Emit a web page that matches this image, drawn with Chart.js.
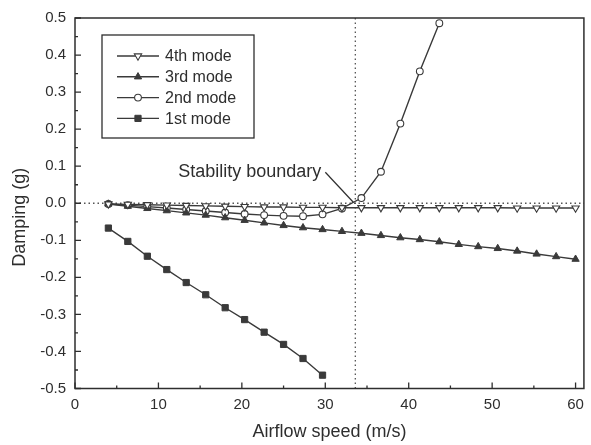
<!DOCTYPE html>
<html>
<head>
<meta charset="utf-8">
<script src="https://cdn.jsdelivr.net/npm/chart.js@4/dist/chart.umd.min.js"></script>
<style>
html,body{margin:0;padding:0;background:#fff;}
#c{display:block;}
</style>
</head>
<body>
<canvas id="c" width="591" height="445"></canvas>
<script>
// ---- data ----
const speeds = [4, 6.33, 8.67, 11, 13.33, 15.67, 18, 20.33, 22.67, 25, 27.33, 29.67, 32,
                34.33, 36.67, 39, 41.33, 43.67, 46, 48.33, 50.67, 53, 55.33, 57.67, 60];
const mode1 = [-0.067, -0.103, -0.143, -0.179, -0.214, -0.247, -0.282, -0.314, -0.348, -0.381, -0.419, -0.464];
const mode2 = [-0.002, -0.005, -0.009, -0.013, -0.017, -0.021, -0.025, -0.029, -0.032, -0.034, -0.035, -0.030, -0.014,
               0.014, 0.085, 0.215, 0.356, 0.486];
const mode3 = [-0.002, -0.008, -0.014, -0.020, -0.026, -0.032, -0.039, -0.046, -0.053, -0.060, -0.066, -0.071, -0.076,
               -0.081, -0.087, -0.093, -0.098, -0.104, -0.111, -0.117, -0.122, -0.129, -0.137, -0.144, -0.151];
const mode4 = [-0.002, -0.003, -0.004, -0.005, -0.006, -0.007, -0.008, -0.009, -0.010, -0.010, -0.011, -0.011, -0.012,
               -0.012, -0.012, -0.012, -0.012, -0.012, -0.012, -0.012, -0.012, -0.013, -0.013, -0.013, -0.013];
const seriesLabels = ['4th mode', '3rd mode', '2nd mode', '1st mode'];
const xTicks = [0, 10, 20, 30, 40, 50, 60];
const xMinorTicks = [5, 15, 25, 35, 45, 55];
const yTicks = [-0.5, -0.4, -0.3, -0.2, -0.1, 0, 0.1, 0.2, 0.3, 0.4, 0.5];
const yMinorTicks = [-0.45, -0.35, -0.25, -0.15, -0.05, 0.05, 0.15, 0.25, 0.35, 0.45];
const boundarySpeed = 33.6;
const annotationText = 'Stability boundary';
const xTitle = 'Airflow speed (m/s)';
const yTitle = 'Damping (g)';

const FONT = "'Liberation Sans', Arial, sans-serif";
const INK = '#2e2e2e';
const LINE = '#3a3a3a';

function pts(vals){ return vals.map((v,i)=>({x: speeds[i], y: v})); }

const datasets = [
  {label: seriesLabels[0], data: pts(mode4), pointStyle: 'triangle', rotation: 180, pointRadius: 4.2,
   backgroundColor: '#fff', borderColor: LINE, pointBorderWidth: 1.1},
  {label: seriesLabels[1], data: pts(mode3), pointStyle: 'triangle', rotation: 0, pointRadius: 4.2,
   backgroundColor: LINE, borderColor: LINE, pointBorderWidth: 1},
  {label: seriesLabels[2], data: pts(mode2), pointStyle: 'circle', rotation: 0, pointRadius: 3.4,
   backgroundColor: '#fff', borderColor: LINE, pointBorderWidth: 1.1},
  {label: seriesLabels[3], data: pts(mode1), pointStyle: 'rect', rotation: 0, pointRadius: 4.4,
   backgroundColor: LINE, borderColor: LINE, pointBorderWidth: 1}
].map(d => Object.assign({borderWidth: 1.4, showLine: true, fill: false, tension: 0, pointRotation: d.rotation,
                          pointBackgroundColor: d.backgroundColor, pointBorderColor: d.borderColor}, d));

const decor = {
  id: 'decor',
  beforeDatasetsDraw(chart) {
    const {ctx, chartArea: a, scales: {x, y}} = chart;
    ctx.save();
    ctx.strokeStyle = '#555';
    ctx.lineWidth = 1.3;
    ctx.setLineDash([1.5, 3]);
    const y0 = y.getPixelForValue(0);
    ctx.beginPath(); ctx.moveTo(a.left, y0); ctx.lineTo(a.right, y0); ctx.stroke();
    const xb = x.getPixelForValue(boundarySpeed);
    ctx.beginPath(); ctx.moveTo(xb, a.top); ctx.lineTo(xb, a.bottom); ctx.stroke();
    ctx.restore();
  },
  afterDraw(chart) {
    const {ctx, chartArea: a, scales: {x, y}} = chart;
    ctx.save();
    // frame
    ctx.strokeStyle = INK; ctx.lineWidth = 1.5; ctx.setLineDash([]);
    ctx.strokeRect(a.left, a.top, a.right - a.left, a.bottom - a.top);
    // inward ticks
    ctx.lineWidth = 1.3;
    ctx.beginPath();
    xTicks.forEach(v => { const p = x.getPixelForValue(v); ctx.moveTo(p, a.bottom); ctx.lineTo(p, a.bottom - 6); });
    xMinorTicks.forEach(v => { const p = x.getPixelForValue(v); ctx.moveTo(p, a.bottom); ctx.lineTo(p, a.bottom - 3); });
    yTicks.forEach(v => { const p = y.getPixelForValue(v); ctx.moveTo(a.left, p); ctx.lineTo(a.left + 6, p); });
    yMinorTicks.forEach(v => { const p = y.getPixelForValue(v); ctx.moveTo(a.left, p); ctx.lineTo(a.left + 3, p); });
    ctx.stroke();

    // y title
    ctx.fillStyle = INK;
    ctx.font = '18px ' + FONT;
    ctx.textAlign = 'center'; ctx.textBaseline = 'middle';
    ctx.save();
    ctx.translate(20, (a.top + a.bottom) / 2 + 14);
    ctx.rotate(-Math.PI / 2);
    ctx.fillText(yTitle, 0, 0);
    ctx.restore();

    // legend box
    const lx = a.left + 27, ly = a.top + 17, lw = 152, lh = 103;
    ctx.strokeStyle = INK; ctx.lineWidth = 1.3;
    ctx.strokeRect(lx, ly, lw, lh);
    ctx.font = '16px ' + FONT; ctx.textAlign = 'left'; ctx.textBaseline = 'middle';
    chart.data.datasets.forEach((ds, i) => {
      const ry = ly + 21 + i * 20.8;
      ctx.strokeStyle = LINE; ctx.lineWidth = 1.4;
      ctx.beginPath(); ctx.moveTo(lx + 15, ry); ctx.lineTo(lx + 57, ry); ctx.stroke();
      ctx.fillStyle = ds.pointBackgroundColor; ctx.strokeStyle = ds.pointBorderColor; ctx.lineWidth = ds.pointBorderWidth;
      Chart.helpers.drawPoint(ctx, {pointStyle: ds.pointStyle, rotation: ds.pointRotation, radius: ds.pointRadius, borderWidth: ds.pointBorderWidth}, lx + 36, ry);
      ctx.fillStyle = INK;
      ctx.fillText(ds.label, lx + 63, ry + 1);
    });

    // annotation
    const bx = x.getPixelForValue(boundarySpeed), by = y.getPixelForValue(0);
    ctx.font = '18px ' + FONT; ctx.textAlign = 'right'; ctx.textBaseline = 'alphabetic';
    ctx.fillStyle = INK;
    ctx.fillText(annotationText, bx - 34, by - 26);
    ctx.strokeStyle = INK; ctx.lineWidth = 1.2;
    ctx.beginPath(); ctx.moveTo(bx - 30, by - 31); ctx.lineTo(bx - 2, by - 1); ctx.stroke();
    ctx.restore();
  }
};

new Chart(document.getElementById('c'), {
  type: 'scatter',
  data: {datasets},
  options: {
    responsive: false,
    animation: false,
    devicePixelRatio: 1,
    layout: {padding: {top: 16.5, right: 5, left: 0, bottom: 0}},
    plugins: {legend: {display: false}, tooltip: {enabled: false}},
    scales: {
      x: {
        type: 'linear', min: 0, max: 61,
        grid: {display: false, drawTicks: false},
        border: {display: false},
        afterBuildTicks: s => { s.ticks = xTicks.map(v => ({value: v})); },
        afterFit: s => { s.height = 56.5; },
        ticks: {color: INK, font: {family: FONT, size: 15}, padding: 7, maxRotation: 0,
                callback: v => String(v)},
        title: {display: true, text: xTitle, color: INK, font: {family: FONT, size: 18}, padding: {top: 0, bottom: 2}}
      },
      y: {
        type: 'linear', min: -0.5, max: 0.5,
        grid: {display: false, drawTicks: false},
        border: {display: false},
        afterBuildTicks: s => { s.ticks = yTicks.map(v => ({value: v})); },
        afterFit: s => { s.width = 75; },
        ticks: {color: INK, font: {family: FONT, size: 15}, padding: 9,
                callback: v => Number(v).toFixed(1)},
        title: {display: false}
      }
    }
  },
  plugins: [decor]
});
</script>
</body>
</html>
